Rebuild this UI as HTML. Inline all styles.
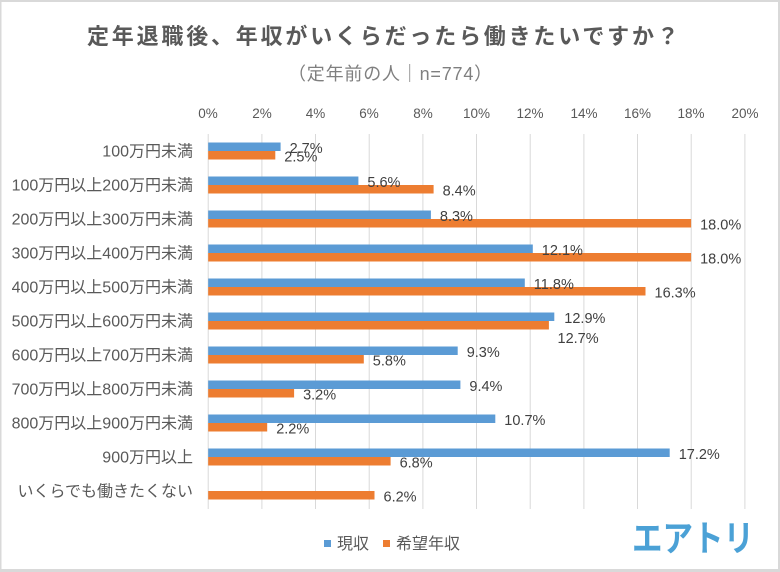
<!DOCTYPE html>
<html>
<head>
<meta charset="utf-8">
<style>
html,body{margin:0;padding:0;background:#fff;}
svg{display:block;}
text{font-family:"Liberation Sans","Noto Sans CJK JP",sans-serif;}
</style>
</head>
<body>
<svg width="780" height="572" viewBox="0 0 780 572" xmlns="http://www.w3.org/2000/svg">
<rect x="0" y="0" width="780" height="572" fill="#ffffff"/>
<!-- border -->
<rect x="0" y="0" width="780" height="2" fill="#d9d9d9"/>
<rect x="0" y="0" width="1.5" height="572" fill="#d9d9d9"/>
<rect x="778" y="0" width="2" height="572" fill="#d9d9d9"/>
<rect x="0" y="569" width="780" height="3" fill="#d9d9d9"/>

<!-- title -->
<text x="87" y="44" font-size="22" font-weight="bold" fill="#595959" letter-spacing="2.8">定年退職後、年収がいくらだったら働きたいですか？</text>
<text x="288" y="80" font-size="18" fill="#7f7f7f" letter-spacing="0.8">（定年前の人｜n=774）</text>

<!-- gridlines -->
<g stroke="#d9d9d9" stroke-width="1">
<line x1="208.2" y1="134" x2="208.2" y2="509"/>
<line x1="261.9" y1="134" x2="261.9" y2="509"/>
<line x1="315.5" y1="134" x2="315.5" y2="509"/>
<line x1="369.2" y1="134" x2="369.2" y2="509"/>
<line x1="422.9" y1="134" x2="422.9" y2="509"/>
<line x1="476.5" y1="134" x2="476.5" y2="509"/>
<line x1="530.2" y1="134" x2="530.2" y2="509"/>
<line x1="583.9" y1="134" x2="583.9" y2="509"/>
<line x1="637.5" y1="134" x2="637.5" y2="509"/>
<line x1="691.2" y1="134" x2="691.2" y2="509"/>
<line x1="744.9" y1="134" x2="744.9" y2="509"/>
</g>

<!-- tick labels -->
<g font-size="13.5" fill="#595959" text-anchor="middle">
<text x="208" y="118">0%</text>
<text x="262" y="118">2%</text>
<text x="315.5" y="118">4%</text>
<text x="369" y="118">6%</text>
<text x="423" y="118">8%</text>
<text x="476.5" y="118">10%</text>
<text x="530" y="118">12%</text>
<text x="584" y="118">14%</text>
<text x="637.5" y="118">16%</text>
<text x="691" y="118">18%</text>
<text x="745" y="118">20%</text>
</g>

<!-- category labels -->
<g font-size="16" fill="#595959" text-anchor="end">
<text x="193" y="156.7">100万円未満</text>
<text x="193" y="190.7">100万円以上200万円未満</text>
<text x="193" y="224.7">200万円以上300万円未満</text>
<text x="193" y="258.7">300万円以上400万円未満</text>
<text x="193" y="292.7">400万円以上500万円未満</text>
<text x="193" y="326.7">500万円以上600万円未満</text>
<text x="193" y="360.7">600万円以上700万円未満</text>
<text x="193" y="394.7">700万円以上800万円未満</text>
<text x="193" y="428.7">800万円以上900万円未満</text>
<text x="193" y="462.7">900万円以上</text>
<text x="193" y="496.7">いくらでも働きたくない</text>
</g>

<!-- blue bars (現収) -->
<g fill="#5b9bd5">
<rect x="208.2" y="142.5" width="72.4" height="8.5"/>
<rect x="208.2" y="176.5" width="150.2" height="8.5"/>
<rect x="208.2" y="210.5" width="222.7" height="8.5"/>
<rect x="208.2" y="244.5" width="324.6" height="8.5"/>
<rect x="208.2" y="278.5" width="316.6" height="8.5"/>
<rect x="208.2" y="312.5" width="346.1" height="8.5"/>
<rect x="208.2" y="346.5" width="249.5" height="8.5"/>
<rect x="208.2" y="380.5" width="252.2" height="8.5"/>
<rect x="208.2" y="414.5" width="287.1" height="8.5"/>
<rect x="208.2" y="448.5" width="461.5" height="8.5"/>
</g>
<!-- orange bars (希望年収) -->
<g fill="#ed7d31">
<rect x="208.2" y="151" width="67.1" height="8.5"/>
<rect x="208.2" y="185" width="225.4" height="8.5"/>
<rect x="208.2" y="219" width="482.9" height="8.5"/>
<rect x="208.2" y="253" width="482.9" height="8.5"/>
<rect x="208.2" y="287" width="437.3" height="8.5"/>
<rect x="208.2" y="321" width="340.7" height="8.5"/>
<rect x="208.2" y="355" width="155.6" height="8.5"/>
<rect x="208.2" y="389" width="85.9" height="8.5"/>
<rect x="208.2" y="423" width="59.0" height="8.5"/>
<rect x="208.2" y="457" width="182.4" height="8.5"/>
<rect x="208.2" y="491" width="166.3" height="8.5"/>
</g>

<!-- data labels -->
<g font-size="14.5" fill="#404040">
<text x="289.6" y="152.8">2.7%</text>
<text x="284.3" y="161.3">2.5%</text>
<text x="367.4" y="186.8">5.6%</text>
<text x="442.6" y="195.3">8.4%</text>
<text x="439.9" y="220.8">8.3%</text>
<text x="700.1" y="229.3">18.0%</text>
<text x="541.8" y="254.8">12.1%</text>
<text x="700.1" y="263.3">18.0%</text>
<text x="533.8" y="288.8">11.8%</text>
<text x="654.5" y="297.3">16.3%</text>
<text x="564.3" y="323">12.9%</text>
<text x="557.5" y="343">12.7%</text>
<text x="466.7" y="357">9.3%</text>
<text x="372.8" y="365.3">5.8%</text>
<text x="469.4" y="390.8">9.4%</text>
<text x="303.1" y="399.3">3.2%</text>
<text x="504.3" y="424.8">10.7%</text>
<text x="276.2" y="433.3">2.2%</text>
<text x="678.7" y="458.8">17.2%</text>
<text x="399.6" y="467.3">6.8%</text>
<text x="383.5" y="501.3">6.2%</text>
</g>

<!-- legend -->
<rect x="324" y="540" width="7" height="7" fill="#5b9bd5"/>
<text x="337" y="549" font-size="16" fill="#595959">現収</text>
<rect x="383" y="540" width="7" height="7" fill="#ed7d31"/>
<text x="396" y="549" font-size="16" fill="#595959">希望年収</text>

<!-- logo -->
<text x="632" y="551" font-size="36" font-weight="bold" fill="#4ba1d6" textLength="122" lengthAdjust="spacingAndGlyphs">エアトリ</text>
</svg>
</body>
</html>
